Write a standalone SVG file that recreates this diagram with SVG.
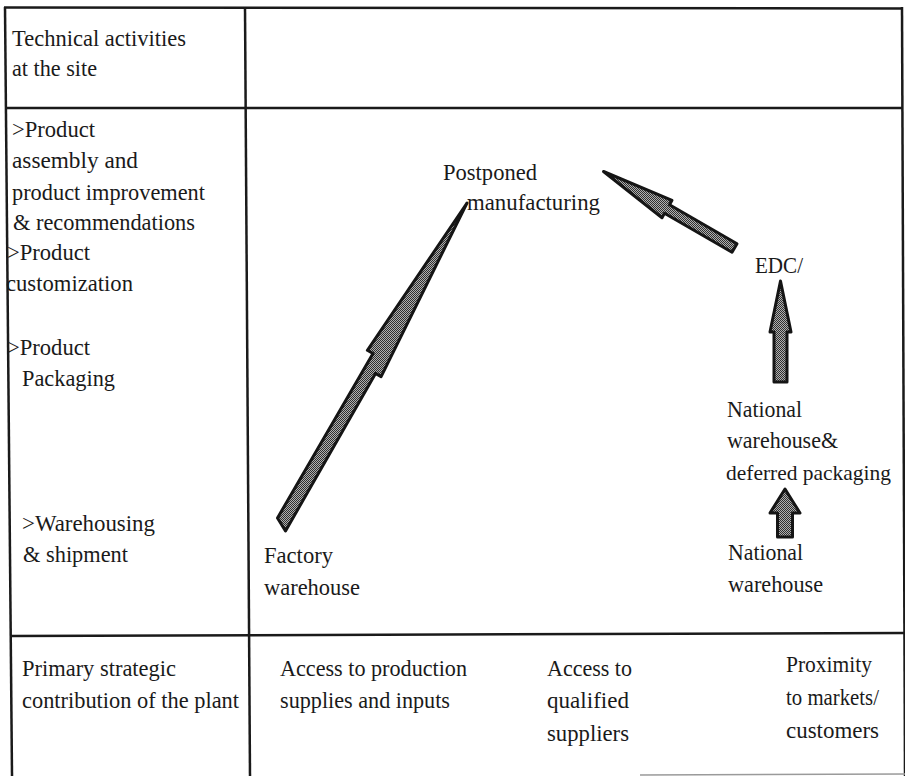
<svg xmlns="http://www.w3.org/2000/svg" width="905" height="776" viewBox="0 0 905 776" font-family="Liberation Serif">
<defs>
<pattern id="ht" width="2" height="2" patternUnits="userSpaceOnUse"><rect width="2" height="2" fill="#b0b0b0"/><rect width="1" height="1" fill="#303030"/><rect x="1" y="1" width="1" height="1" fill="#303030"/></pattern>
</defs>
<style>
text{font-size:24px;fill:#1a1a1a}
.grid{stroke:#1a1a1a;stroke-width:2.5;fill:none}
.faint{stroke:#9a9a9a;stroke-width:1.5;fill:none}
.arrow{fill:url(#ht);stroke:#151515;stroke-width:3;stroke-linejoin:round}
</style>
<rect width="905" height="776" fill="#ffffff"/>
<g id="table">
<line class="grid" x1="4" y1="7.5" x2="903" y2="8.5"/>
<line class="grid" x1="5" y1="7" x2="12" y2="776"/>
<line class="grid" x1="245" y1="7" x2="250" y2="776"/>
<line class="grid" x1="902" y1="7" x2="905" y2="776"/>
<line class="grid" x1="5" y1="108" x2="903" y2="108"/>
<line class="grid" x1="10" y1="636" x2="904" y2="633"/>
<line class="faint" x1="640" y1="775" x2="905" y2="774"/>
</g>
<g id="header">
<text x="12" y="46" textLength="174" lengthAdjust="spacingAndGlyphs">Technical activities</text>
<text x="12" y="76" textLength="85" lengthAdjust="spacingAndGlyphs">at the site</text>
</g>
<g id="activities">
<text x="12" y="137" textLength="83" lengthAdjust="spacingAndGlyphs">&gt;Product</text>
<text x="12" y="168" textLength="126" lengthAdjust="spacingAndGlyphs">assembly  and</text>
<text x="12" y="200" textLength="193" lengthAdjust="spacingAndGlyphs">product improvement</text>
<text x="13" y="230" textLength="182" lengthAdjust="spacingAndGlyphs">&amp; recommendations</text>
<text x="7" y="260" textLength="83" lengthAdjust="spacingAndGlyphs">&gt;Product</text>
<text x="6" y="291" textLength="127" lengthAdjust="spacingAndGlyphs">customization</text>
<text x="7" y="355" textLength="83" lengthAdjust="spacingAndGlyphs">&gt;Product</text>
<text x="22" y="386" textLength="93" lengthAdjust="spacingAndGlyphs">Packaging</text>
<text x="22" y="531" textLength="133" lengthAdjust="spacingAndGlyphs">&gt;Warehousing</text>
<text x="23" y="562" textLength="105" lengthAdjust="spacingAndGlyphs">&amp; shipment</text>
</g>
<g id="postponed">
<text x="443" y="180" textLength="94" lengthAdjust="spacingAndGlyphs">Postponed</text>
<text x="467" y="210" textLength="133" lengthAdjust="spacingAndGlyphs">manufacturing</text>
</g>
<g id="edc">
<text x="755" y="273" textLength="48" lengthAdjust="spacingAndGlyphs">EDC/</text>
</g>
<g id="national-deferred">
<text x="727" y="417" textLength="75" lengthAdjust="spacingAndGlyphs">National</text>
<text x="727" y="448" textLength="111" lengthAdjust="spacingAndGlyphs">warehouse&amp;</text>
<text x="726" y="480" style="font-size:22px" textLength="165" lengthAdjust="spacingAndGlyphs">deferred packaging</text>
</g>
<g id="national">
<text x="728" y="560" textLength="75" lengthAdjust="spacingAndGlyphs">National</text>
<text x="728" y="592" textLength="95" lengthAdjust="spacingAndGlyphs">warehouse</text>
</g>
<g id="factory">
<text x="264" y="563" textLength="69" lengthAdjust="spacingAndGlyphs">Factory</text>
<text x="264" y="595" textLength="96" lengthAdjust="spacingAndGlyphs">warehouse</text>
</g>
<g id="contribution">
<text x="22" y="676" textLength="154" lengthAdjust="spacingAndGlyphs">Primary strategic</text>
<text x="22" y="708" textLength="217" lengthAdjust="spacingAndGlyphs">contribution of the plant</text>
<text x="280" y="676" textLength="187" lengthAdjust="spacingAndGlyphs">Access to production</text>
<text x="280" y="708" textLength="170" lengthAdjust="spacingAndGlyphs">supplies and inputs</text>
<text x="547" y="676" textLength="85" lengthAdjust="spacingAndGlyphs">Access to</text>
<text x="547" y="708" textLength="82" lengthAdjust="spacingAndGlyphs">qualified</text>
<text x="547" y="741" textLength="82" lengthAdjust="spacingAndGlyphs">suppliers</text>
<text x="786" y="672" textLength="86" lengthAdjust="spacingAndGlyphs">Proximity</text>
<text x="786" y="705" textLength="93" lengthAdjust="spacingAndGlyphs">to markets/</text>
<text x="786" y="738" textLength="93" lengthAdjust="spacingAndGlyphs">customers</text>
</g>
<g id="connectors">
<polygon class="arrow" points="277.5,518 373,353.5 367.4,350.3 467,203 381.1,376.6 375.5,373.4 285.5,531"/>
<polygon class="arrow" points="737,243.7 669.5,204.7 672,200.3 603.5,171.5 662,217.7 664.5,213.3 732,252.3"/>
<polygon class="arrow" points="774,382 774,332 770,332 780.5,281 791,332 787,332 787,382"/>
<polygon class="arrow" points="777.5,537 777.5,513 770,513 785,489 800,513 792.5,513 792.5,537"/>
</g>
</svg>
